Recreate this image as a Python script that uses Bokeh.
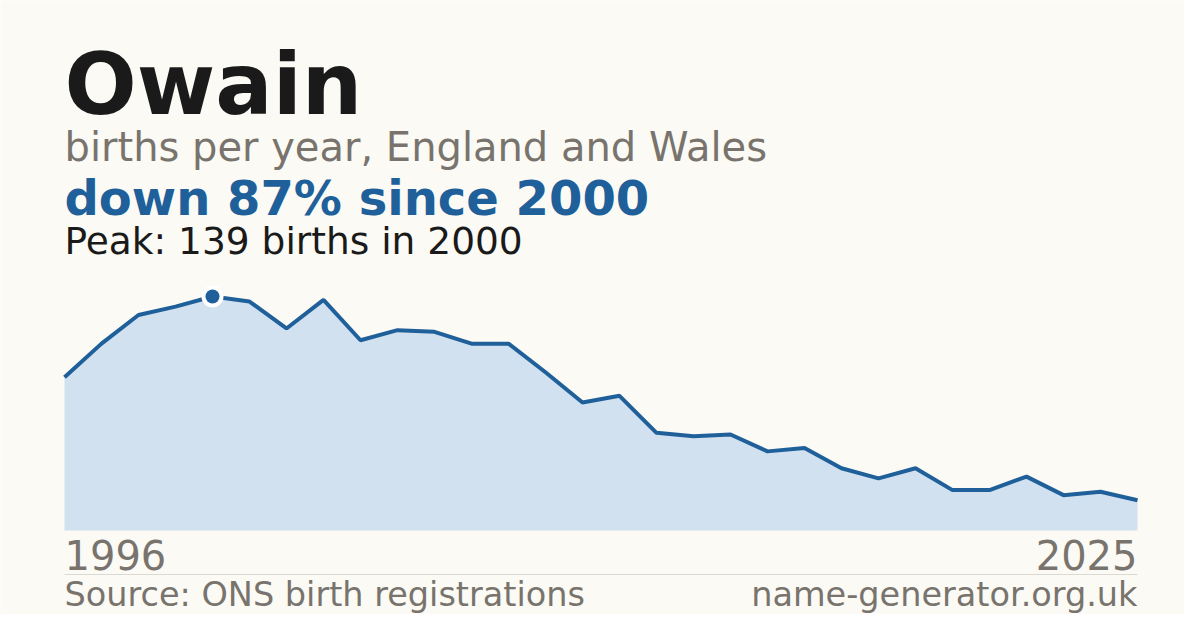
from bokeh.plotting import figure
from bokeh.models import Label, ColumnDataSource
from bokeh.embed import file_html
from bokeh.resources import INLINE

# ---- data ----
name = "Owain"
subtitle = "births per year, England and Wales"
years = list(range(1996, 2026))
births = [91, 111, 128, 133, 139, 136, 120, 137, 113, 119,
          118, 111, 111, 94, 76, 80, 58, 56, 57, 47,
          49, 37, 31, 37, 24, 24, 32, 21, 23, 18]
source_text = "Source: ONS birth registrations"
site_text = "name-generator.org.uk"

peak = max(births)
peak_year = years[births.index(peak)]
pct = round((1 - births[-1] / peak) * 100)
headline = f"down {pct}% since {peak_year}"
peak_text = f"Peak: {peak} births in {peak_year}"

# ---- layout ----
W, H = 1184, 614
BG = "#fbfaf5"
BLUE = "#20609a"
FILL = "#d1e1f0"
GREY = "#78746d"
DARK = "#1a1a1a"
FONT = "DejaVu Sans"

left_px, right_px = 64, 1137          # canvas x of first / last year
ppx = (right_px - left_px) / (years[-1] - years[0])
x_start = years[0] - left_px / ppx
x_end = years[-1] + (W - right_px) / ppx

base_px = 84                            # canvas px from bottom for value 0
peak_px = 318                           # canvas px from bottom for peak
ppy = (peak_px - base_px) / peak
y_start = -base_px / ppy
y_end = y_start + H / ppy

p = figure(width=W, height=H, x_range=(x_start, x_end), y_range=(y_start, y_end),
           output_backend="svg", toolbar_location=None, min_border=0,
           background_fill_color=BG, border_fill_color=BG, outline_line_color=None)
p.axis.visible = False
p.grid.visible = False

src = ColumnDataSource(dict(x=years, y=births))
p.varea(x="x", y1=0, y2="y", source=src, fill_color=FILL)
p.line(x="x", y="y", source=src, line_color=BLUE, line_width=4)
p.scatter(x=[peak_year], y=[peak], size=22, fill_color="white", line_color=None)
p.scatter(x=[peak_year], y=[peak], size=14, fill_color=BLUE, line_color=None)

# separator line
sep_y = y_start + 40 / ppy
p.segment(x0=[years[0]], x1=[years[-1]], y0=[sep_y], y1=[sep_y],
          line_color="#dcd9d2", line_width=1)

def lab(text, x, y, size, color, bold=False, align="left"):
    p.add_layout(Label(x=x, y=y, x_units="data", y_units="screen", text=text,
                       text_font=FONT, text_font_size=f"{size}px",
                       text_font_style="bold" if bold else "normal",
                       text_color=color, text_align=align,
                       text_baseline="alphabetic"))

x0 = years[0]
lab(name, x0, 530, 85, DARK, bold=True)
lab(subtitle, x0, 468, 40, GREY)
lab(headline, x0, 417, 48, BLUE, bold=True)
lab(peak_text, x0, 374, 37.5, DARK)
lab(str(years[0]), x0, 60, 40, GREY)
lab(str(years[-1]), years[-1], 60, 40, GREY, align="right")
lab(source_text, x0, 20, 33.5, GREY)
lab(site_text, years[-1], 20, 33.5, GREY, align="right")

open("out.html", "w").write(file_html(p, INLINE))
